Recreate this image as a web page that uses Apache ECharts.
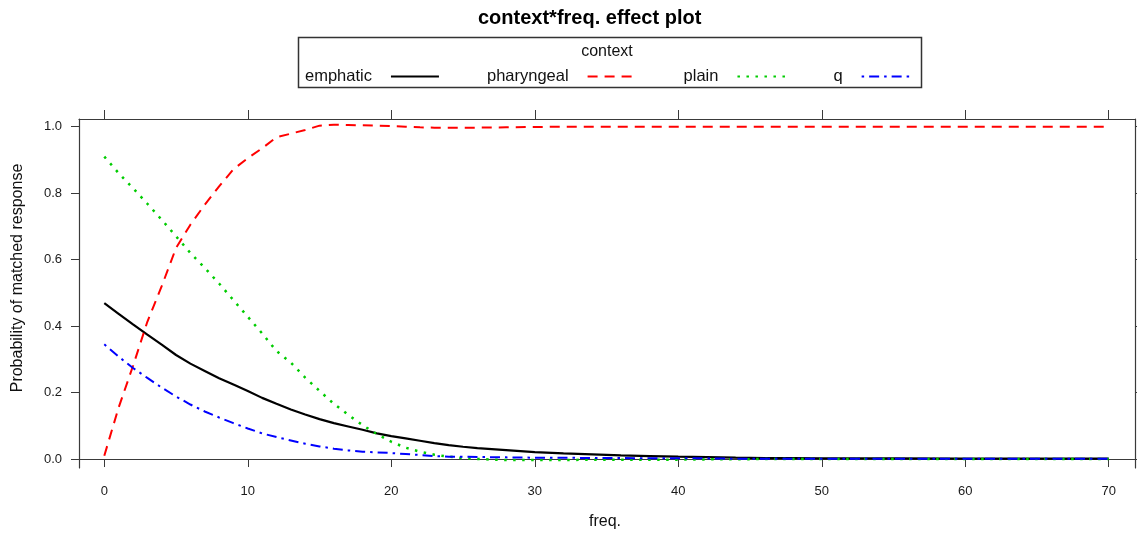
<!DOCTYPE html>
<html>
<head>
<meta charset="utf-8">
<script src="https://cdn.jsdelivr.net/npm/echarts@6/dist/echarts.min.js"></script>
<style>
html,body{margin:0;padding:0;background:#fff;}
#chart{width:1137px;height:534px;}
</style>
</head>
<body>
<div id="chart"></div>
<script>
// ---- data ----
var freq = [0,1,2,3,4,5,6,7,8,9,10,11,12,13,14,15,16,17,18,19,20,21,22,23,24,25,26,28,30,32,34,36,38,40,42,44,46,48,50,55,60,65,70];
var emphatic = [0.469,0.437,0.405,0.374,0.344,0.313,0.287,0.265,0.243,0.224,0.205,0.184,0.166,0.149,0.134,0.120,0.108,0.098,0.088,0.077,0.069,0.062,0.055,0.048,0.042,0.037,0.033,0.027,0.021,0.017,0.014,0.011,0.009,0.007,0.006,0.004,0.003,0.003,0.002,0.002,0.001,0.001,0.001];
var pharyngeal = [0.010,0.155,0.280,0.413,0.520,0.635,0.705,0.765,0.820,0.872,0.905,0.935,0.968,0.979,0.990,1.003,1.006,1.005,1.004,1.003,1.002,1.000,0.998,0.997,0.997,0.997,0.997,0.998,0.999,1.000,1.000,1.000,1.000,1.000,1.000,1.000,1.000,1.000,1.000,1.000,1.000,1.000,1.000];
var plain = [0.910,0.860,0.815,0.768,0.720,0.670,0.620,0.575,0.528,0.478,0.428,0.378,0.325,0.290,0.245,0.205,0.166,0.133,0.102,0.075,0.052,0.034,0.022,0.013,0.007,0.003,0.000,-0.003,-0.003,-0.003,-0.002,-0.002,-0.002,-0.002,-0.001,-0.001,0.000,0.000,0.000,0.000,0.000,0.000,0.000];
var q = [0.345,0.308,0.274,0.244,0.215,0.188,0.164,0.143,0.125,0.108,0.092,0.077,0.066,0.056,0.046,0.038,0.031,0.026,0.022,0.020,0.018,0.015,0.012,0.009,0.007,0.007,0.006,0.005,0.004,0.004,0.003,0.003,0.002,0.002,0.002,0.001,0.001,0.001,0.001,0.001,0.001,0.001,0.001];
var seriesNames = ['emphatic','pharyngeal','plain','q'];
var xTicks = [0,10,20,30,40,50,60,70];
var yTicks = [0,0.2,0.4,0.6,0.8,1.0];

function pairs(ys){ return freq.map(function(x,i){ return [x, ys[i]]; }); }

var FONT = '"Liberation Sans", Arial, sans-serif';
var AX = '#3a3a3a';
var xMin = -1.763, xMax = 71.83, yMin = -0.027, yMax = 1.023;

var chart = echarts.init(document.getElementById('chart'), null, {renderer:'canvas'});
var option = {
  animation: false,
  backgroundColor: '#fff',
  title: {
    text: 'context*freq. effect plot',
    left: 478, top: 8, padding: 0,
    textStyle: {fontFamily: FONT, fontSize: 20, fontWeight: 'bold', color: '#000'}
  },
  legend: {
    data: seriesNames,
    left: 305, top: 68, padding: 0,
    orient: 'horizontal',
    align: 'right',
    itemWidth: 48, itemHeight: 14, itemGap: 47,
    selectedMode: false,
    itemStyle: {opacity: 0},
    textStyle: {fontFamily: FONT, fontSize: 16.5, color: '#111', padding: [0,14,0,0]}
  },
  grid: {left: 79, right: 2, top: 119, bottom: 66, containLabel: false},
  xAxis: [{
    type: 'value', position: 'bottom', min: xMin, max: xMax,
    axisLine: {show: true, lineStyle: {color: AX, width: 1.2}},
    axisTick: {show: true, length: 8, inside: false, customValues: xTicks, lineStyle: {color: AX}},
    axisLabel: {show: true, customValues: xTicks, margin: 17, fontFamily: FONT, fontSize: 13, color: '#1a1a1a'},
    splitLine: {show: false}
  },{
    type: 'value', position: 'top', min: xMin, max: xMax,
    axisLine: {show: true, onZero: false, lineStyle: {color: AX, width: 1.2}},
    axisTick: {show: true, length: 9, inside: false, customValues: xTicks, lineStyle: {color: AX}},
    axisLabel: {show: false},
    splitLine: {show: false}
  }],
  yAxis: [{
    type: 'value', position: 'left', min: yMin, max: yMax,
    axisLine: {show: true, onZero: false, lineStyle: {color: AX, width: 1.2}},
    axisTick: {show: true, length: 8, inside: false, customValues: yTicks, lineStyle: {color: AX}},
    axisLabel: {show: true, customValues: yTicks, margin: 17, fontFamily: FONT, fontSize: 13, color: '#1a1a1a',
      formatter: function(v){ return v.toFixed(1); }},
    splitLine: {show: false}
  },{
    type: 'value', position: 'right', min: yMin, max: yMax,
    axisLine: {show: true, onZero: false, lineStyle: {color: AX, width: 1.2}},
    axisTick: {show: true, length: 8, inside: false, customValues: yTicks, lineStyle: {color: AX}},
    axisLabel: {show: false},
    splitLine: {show: false}
  }],
  graphic: [
    {type: 'rect', left: 296, top: 35, shape: {x: 0, y: 0, width: 623, height: 50},
     style: {fill: 'none', stroke: '#333', lineWidth: 1.5}, z: 10},
    {type: 'text', x: 607, y: 52, style: {text: 'context', font: '16px ' + FONT, fill: '#111', align: 'center', verticalAlign: 'middle'}},
    {type: 'text', x: 605, y: 522, style: {text: 'freq.', font: '16px ' + FONT, fill: '#111', align: 'center', verticalAlign: 'middle'}},
    {type: 'text', x: 18, y: 278, rotation: Math.PI/2, style: {text: 'Probability of matched response', font: '16px ' + FONT, fill: '#111', align: 'center', verticalAlign: 'middle'}}
  ],
  series: [
    {name: 'emphatic', type: 'line', data: pairs(emphatic), showSymbol: false, symbol: 'none',
     lineStyle: {color: '#000000', width: 2.2, type: 'solid'}, itemStyle: {color: '#000000'}},
    {name: 'pharyngeal', type: 'line', data: pairs(pharyngeal), showSymbol: false, symbol: 'none',
     lineStyle: {color: '#FF0000', width: 2, type: [10,7]}, itemStyle: {color: '#FF0000'}},
    {name: 'plain', type: 'line', data: pairs(plain), showSymbol: false, symbol: 'none',
     lineStyle: {color: '#00CC00', width: 2.5, type: [2.5,6.5]}, itemStyle: {color: '#00CC00'}},
    {name: 'q', type: 'line', data: pairs(q), showSymbol: false, symbol: 'none',
     lineStyle: {color: '#0000FF', width: 2, type: [2.5,5,10,5]}, itemStyle: {color: '#0000FF'}}
  ]
};
chart.setOption(option);
</script>
</body>
</html>
